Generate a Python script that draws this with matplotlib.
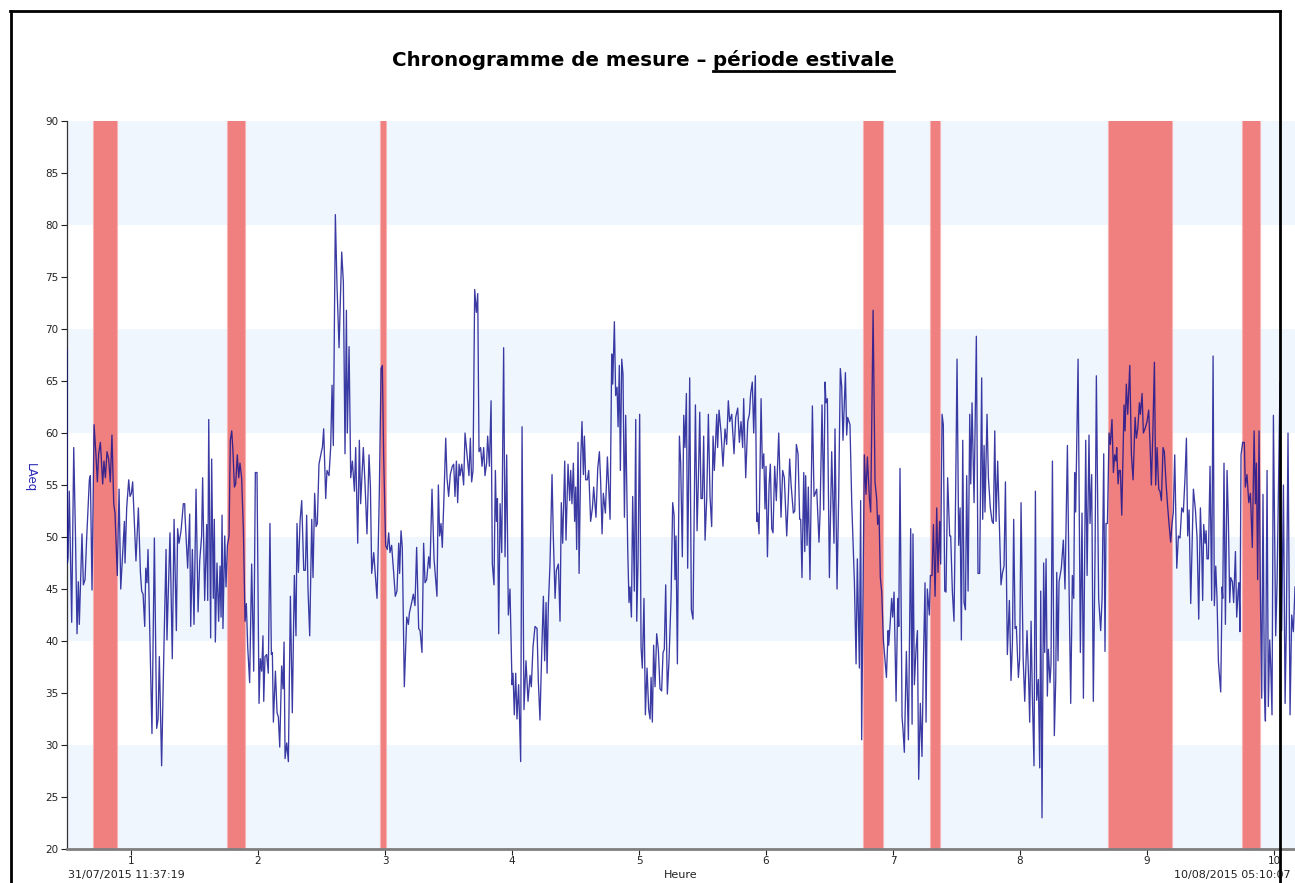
import matplotlib
matplotlib.use("Agg")
import matplotlib.pyplot as plt
from matplotlib.lines import Line2D

# ---------------- data ----------------
title_main = "Chronogramme de mesure \u2013 "
title_under = "p\u00e9riode estivale"
y_label = "LAeq"
x_label = "Heure"
start_label = "31/07/2015 11:37:19"
end_label = "10/08/2015 05:10:07"

x_ticks = [1, 2, 3, 4, 5, 6, 7, 8, 9, 10]
y_ticks = [20, 25, 30, 35, 40, 45, 50, 55, 60, 65, 70, 75, 80, 85, 90]
band_ranges = [(20, 30), (40, 50), (60, 70), (80, 90)]
red_periods = [(0.701, 0.890), (1.756, 1.898), (2.961, 3.008), (6.764, 6.921),
               (7.291, 7.370), (8.693, 9.197), (9.748, 9.890)]

time = [
 0.496,0.499,0.504,0.514,0.533,0.549,0.562,0.575,0.585,0.593,0.614,0.625,0.638,0.651,0.672,0.680,0.693,0.709,0.724,0.735,
 0.745,0.759,0.766,0.777,0.787,0.798,0.811,0.824,0.837,0.850,0.864,0.874,0.892,0.906,0.919,0.932,0.948,0.953,0.966,0.982,
 0.992,1.003,1.013,1.024,1.039,1.058,1.074,1.084,1.095,1.108,1.116,1.126,1.134,1.150,1.165,1.184,1.202,1.213,1.223,1.241,
 1.260,1.276,1.283,1.307,1.325,1.339,1.357,1.367,1.378,1.394,1.412,1.423,
 1.425,1.446,1.462,1.470,1.483,1.496,1.512,1.528,1.541,1.556,1.564,1.580,1.596,1.604,1.612,1.627,1.635,1.648,1.656,1.664,
 1.677,1.690,1.701,1.709,1.717,1.724,1.738,1.748,1.759,1.772,1.782,1.793,1.803,1.814,1.824,1.837,1.848,1.858,1.871,1.885,
 1.898,1.908,1.919,1.934,1.950,1.966,1.979,1.992,2.008,2.018,2.029,2.039,2.045,2.055,2.068,2.081,2.094,2.105,2.113,2.121,
 2.137,2.150,2.160,2.171,2.186,2.197,2.205,2.213,2.226,2.239,2.255,2.270,2.286,2.299,2.307,2.318,2.331,2.344,2.360,2.373,
 2.383,2.394,2.407,
 2.423,2.433,2.446,2.457,2.467,2.480,2.499,2.507,2.517,2.533,2.543,2.559,2.572,2.583,2.593,2.609,2.622,2.638,2.659,2.672,
 2.685,2.696,2.703,2.717,2.730,2.743,2.759,2.769,2.785,2.798,2.808,2.829,2.843,2.858,2.874,2.885,2.895,2.911,2.924,2.937,
 2.945,2.955,2.969,2.979,2.989,3.005,3.018,3.029,3.039,3.052,3.068,3.081,3.094,3.108,3.115,3.126,3.136,3.152,3.171,3.184,
 3.192,3.210,3.223,3.236,3.249,3.265,3.276,3.291,3.304,3.315,3.328,3.344,3.354,3.370,3.386,
 3.409,3.420,3.430,3.441,3.451,3.465,3.478,3.488,3.501,3.514,3.530,3.541,3.551,3.562,3.572,3.583,3.591,3.604,3.619,3.630,
 3.646,3.661,3.672,3.682,3.693,3.706,3.719,3.730,3.740,3.753,3.764,3.777,3.787,3.800,3.808,3.822,3.835,3.845,3.858,3.869,
 3.877,3.885,3.895,3.906,3.919,3.934,3.945,3.958,3.971,3.984,4.000,4.008,4.018,4.029,4.039,4.052,4.068,4.079,4.094,4.110,
 4.126,4.142,4.152,4.165,4.181,4.197,4.207,4.220,4.234,4.247,4.257,4.268,4.276,4.286,4.299,4.315,4.325,4.339,4.349,4.365,
 4.378,4.388,4.399,4.415,4.425,4.441,4.454,4.462,4.472,4.483,4.493,4.501,4.509,4.520,4.528,4.541,4.551,4.562,4.570,4.580,
 4.593,4.604,4.619,4.633,4.643,4.661,4.675,4.688,4.698,4.709,4.719,4.735,4.751,4.758,4.772,4.785,4.793,4.806,4.816,4.827,
 4.835,4.845,4.853,4.864,4.874,4.885,4.895,4.911,4.921,4.929,4.940,4.950,4.963,4.974,4.982,4.992,5.005,5.016,5.026,5.039,
 5.050,5.063,5.076,5.087,5.095,5.105,5.115,5.126,5.139,5.152,5.165,5.178,5.189,5.199,5.210,5.223,5.236,5.252,5.265,5.276,
 5.283,5.291,5.302,5.318,5.328,5.341,5.352,
 5.362,5.373,5.383,5.399,5.412,5.425,5.444,5.457,5.467,5.478,5.488,5.499,5.509,5.520,5.533,5.546,5.559,5.572,5.583,5.593,
 5.612,5.619,5.630,5.646,5.661,5.677,5.690,5.703,5.714,5.730,5.748,5.761,5.777,5.790,5.803,5.816,5.824,5.840,5.856,5.869,
 5.879,5.892,5.903,5.916,5.927,5.934,5.945,5.961,5.971,5.982,5.992,6.000,6.011,6.024,6.034,6.045,6.055,6.068,6.081,6.100,
 6.118,6.131,6.144,6.163,6.176,6.186,6.197,6.215,6.226,6.239,6.252,6.265,6.273,6.283,6.297,6.305,6.312,6.323,6.333,
 6.346,6.365,6.378,6.388,6.399,6.417,6.425,6.441,6.454,6.465,6.472,6.483,6.499,6.517,6.535,6.543,6.559,6.572,6.585,6.596,
 6.606,6.625,6.635,6.643,6.661,6.675,6.696,6.709,6.719,6.735,6.745,6.753,6.774,6.787,6.798,6.814,6.824,6.843,6.858,6.871,
 6.879,6.890,6.900,6.911,6.924,6.948,6.961,6.966,6.976,6.989,6.997,7.008,7.024,7.037,7.045,7.055,7.071,7.079,7.089,7.105,
 7.121,7.139,7.150,7.157,7.168,7.181,7.192,7.202,7.215,7.228,7.239,7.252,7.260,7.270,7.286,7.294,7.307,7.318,
 7.331,7.344,7.354,7.367,7.375,7.386,7.396,7.407,7.417,7.430,7.446,7.454,7.467,7.480,7.493,7.504,7.517,7.528,7.538,7.549,
 7.559,7.570,7.580,7.591,7.604,7.612,7.622,7.638,7.656,7.669,7.682,7.698,7.706,7.717,7.724,7.740,7.751,7.766,7.780,7.790,
 7.801,7.811,7.824,7.837,7.850,7.861,7.874,7.885,7.900,7.916,7.929,7.940,7.950,7.961,7.971,7.987,7.997,8.008,8.024,8.037,
 8.055,8.068,8.076,8.087,8.097,8.110,8.121,8.131,8.144,8.155,8.163,8.173,8.186,8.194,8.205,8.215,8.223,8.236,8.244,8.255,
 8.270,8.281,8.289,8.299,8.307,
 8.325,8.341,8.354,8.373,8.386,8.399,8.412,8.423,8.430,8.438,8.457,8.475,8.488,8.499,8.517,8.528,8.543,8.551,8.564,8.577,
 8.591,8.601,8.619,8.635,8.646,8.659,8.669,8.677,8.688,8.701,8.711,8.724,8.735,8.745,8.756,8.761,8.772,8.780,8.790,8.801,
 8.819,8.827,8.837,8.848,8.864,8.877,8.890,8.906,8.916,8.927,8.940,8.948,8.961,8.971,8.984,9.000,9.013,9.024,9.034,9.045,
 9.058,9.068,9.079,9.092,9.102,9.113,9.126,9.136,9.150,9.163,9.173,9.186,9.197,9.207,9.218,9.234,9.247,
 9.260,9.273,9.286,9.299,9.310,9.320,9.331,9.344,9.365,9.381,9.394,9.407,9.420,9.430,9.438,9.446,9.457,9.465,9.472,9.483,
 9.496,9.509,9.520,9.530,9.541,9.551,9.562,9.580,9.591,9.596,9.606,9.617,9.630,9.640,9.651,9.659,9.672,9.682,9.696,9.706,
 9.717,9.724,9.732,9.740,9.753,9.766,9.774,9.787,9.801,9.814,9.829,9.843,9.853,9.861,9.871,9.882,9.892,9.903,9.913,9.924,
 9.932,9.945,9.955,9.966,9.974,9.984,9.995,10.013,10.024,10.047,10.060,10.074,10.087,10.097,10.110,10.126,10.139,10.152,10.165,
]

laeq = [
 68.0,47.5,48.0,54.4,41.8,58.6,50.6,40.7,45.7,41.6,50.3,45.4,45.9,49.9,55.5,55.9,44.9,60.8,57.9,55.3,
 58.0,59.1,57.5,55.1,57.3,55.7,58.2,57.5,55.3,59.8,53.2,52.3,46.3,54.6,45.0,47.9,51.5,47.5,52.8,55.5,
 53.9,54.2,55.3,52.1,47.7,52.8,46.6,44.8,44.5,41.4,47.0,45.6,48.8,39.8,31.1,49.9,31.6,32.5,38.5,28.0,
 39.8,48.8,40.1,50.4,38.3,51.7,41.0,50.8,49.4,50.6,53.2,53.2,
 52.1,47.0,52.2,41.4,48.8,41.6,54.6,42.8,47.7,50.1,55.7,43.9,51.2,43.9,61.3,40.3,57.5,44.1,51.7,39.9,
 47.5,41.9,47.2,42.3,52.1,41.2,50.1,45.2,49.2,50.1,59.3,60.2,58.2,54.8,55.1,57.9,55.7,57.1,55.7,50.6,
 41.9,43.6,39.4,36.0,47.4,37.1,56.2,56.2,34.0,38.3,37.1,40.5,34.2,38.5,38.7,36.9,51.3,38.7,38.9,32.2,
 37.1,33.1,32.7,29.8,37.6,35.4,39.9,28.7,30.2,28.4,44.3,33.1,46.3,40.5,51.3,46.6,51.5,53.5,46.8,46.8,
 52.1,44.8,40.5,
 51.7,46.1,54.2,51.0,51.3,57.0,58.2,58.6,60.4,53.7,56.4,55.9,58.6,64.6,58.8,81.0,74.1,68.2,77.4,74.5,
 58.0,71.8,60.0,68.3,55.7,57.3,54.4,58.6,49.4,59.3,53.2,58.6,55.0,50.3,57.9,54.8,46.5,48.5,46.3,44.1,
 48.1,54.2,66.2,66.5,57.9,49.2,48.8,50.4,48.5,49.2,46.6,44.3,44.8,49.4,46.5,50.6,49.0,35.6,42.3,41.6,
 42.7,43.7,44.5,43.4,49.0,41.2,41.0,38.9,49.4,45.6,45.9,48.1,47.0,54.6,47.9,
 44.3,55.0,50.1,51.3,49.0,54.2,59.5,55.7,53.9,56.0,56.8,57.0,53.9,57.3,53.3,57.0,55.9,57.0,55.0,60.0,
 57.9,55.9,59.5,55.3,56.4,73.8,71.6,73.4,58.2,58.6,56.8,58.6,55.9,57.1,59.7,56.8,63.1,47.4,45.4,56.4,
 51.5,53.7,40.7,53.2,48.5,68.2,48.1,57.9,42.5,45.0,35.8,36.9,32.9,36.9,32.5,35.8,28.4,60.6,33.4,38.1,
 34.2,36.7,35.6,39.4,41.4,41.2,36.2,32.4,39.0,44.3,38.1,43.7,36.9,43.4,47.4,56.0,50.1,44.1,46.8,47.4,
 41.9,53.3,49.4,57.3,49.7,57.0,53.5,56.4,53.2,57.1,51.5,54.8,48.8,59.1,46.5,57.5,61.1,56.0,59.7,55.5,
 55.5,56.4,51.5,52.8,54.8,51.9,56.6,58.2,55.3,50.3,54.2,52.3,57.7,55.7,51.7,67.6,64.7,70.7,63.6,64.4,
 60.6,66.5,56.4,67.1,65.6,51.9,61.7,48.8,43.7,45.2,42.3,53.9,44.8,61.3,41.9,47.5,61.8,39.4,37.4,44.1,
 32.9,37.4,33.4,32.5,36.5,32.2,39.6,35.6,40.7,39.2,35.4,35.2,38.9,39.2,45.4,34.9,38.1,44.1,53.3,52.1,
 45.9,50.1,37.8,59.7,57.1,48.1,61.7,
 58.6,63.8,47.0,65.3,43.0,42.1,62.7,50.6,55.3,62.0,53.7,53.7,59.7,49.7,53.7,61.8,53.9,51.0,59.7,56.4,
 61.8,58.6,62.2,60.0,56.8,60.4,58.9,63.1,61.1,61.8,58.0,61.5,62.4,59.1,61.1,58.6,63.3,55.7,61.1,61.8,
 63.8,64.9,60.0,65.5,51.5,52.3,50.3,63.3,56.6,58.0,52.7,56.8,48.1,55.0,57.0,50.8,50.4,56.8,53.5,60.0,
 51.9,56.4,55.7,50.1,53.9,57.5,55.1,52.3,52.5,58.9,58.0,51.7,51.7,46.1,56.2,48.6,55.9,49.2,54.8,
 45.9,62.6,53.9,54.2,54.6,49.5,52.1,62.7,52.6,64.9,62.9,63.3,46.1,58.2,49.4,60.4,45.0,53.9,66.2,64.4,
 59.3,65.8,59.8,61.5,60.8,53.2,45.6,37.8,47.9,37.4,53.5,30.5,57.9,54.1,57.7,53.7,52.4,71.8,55.3,53.7,
 51.2,52.1,46.1,44.7,40.1,36.5,41.0,39.6,41.4,44.1,42.3,44.7,34.2,44.1,41.4,56.6,32.7,31.4,29.3,39.0,
 30.5,50.8,32.0,50.3,35.8,39.2,41.0,26.7,34.0,28.9,38.0,45.6,32.2,45.0,42.5,46.3,46.3,51.2,
 44.3,52.8,46.6,51.5,47.4,61.8,60.8,44.8,44.7,55.7,50.1,50.1,44.8,41.9,54.2,67.1,49.2,52.8,40.1,59.3,
 43.7,43.0,55.9,44.8,61.8,55.1,62.9,53.3,69.3,46.5,46.5,65.3,51.7,58.8,52.4,61.8,55.7,52.8,51.5,51.3,
 60.2,51.5,57.3,51.2,45.4,46.5,47.2,55.3,38.7,43.9,36.2,39.8,51.7,41.2,41.4,36.5,38.3,53.3,38.5,34.2,
 41.0,36.2,32.2,41.9,34.7,28.0,54.4,34.3,36.3,27.8,44.8,23.0,47.5,38.9,47.9,34.7,39.2,36.0,37.8,57.3,
 30.9,36.2,46.6,38.1,45.7,
 47.0,49.7,45.0,58.8,45.2,34.0,46.3,44.1,56.2,52.4,67.1,38.9,52.3,34.5,59.3,46.3,59.8,51.3,56.0,34.2,
 48.8,65.5,44.1,41.0,44.1,58.0,39.0,51.3,51.3,60.0,58.9,61.3,56.2,57.9,57.3,58.6,55.1,56.4,56.4,52.1,
 62.7,60.2,64.7,61.8,66.5,57.9,55.5,61.5,59.5,60.4,62.9,61.8,63.8,60.0,60.4,61.1,62.2,58.8,55.0,59.7,
 66.8,55.0,58.6,54.6,54.4,53.5,58.6,58.2,55.1,52.8,51.3,49.5,51.3,52.4,57.9,47.0,50.1,
 49.9,52.8,52.4,55.7,59.5,50.1,52.6,43.6,54.6,52.6,49.9,42.1,52.8,49.0,43.9,51.2,49.4,50.6,47.9,47.9,
 56.8,43.9,67.4,43.4,47.2,44.1,38.0,35.1,45.2,44.1,57.1,41.6,56.4,51.9,43.7,46.1,45.7,43.7,48.6,42.3,
 44.8,45.6,40.9,57.9,59.1,59.1,54.8,56.0,53.3,54.2,49.0,60.2,53.2,57.1,45.9,60.2,45.2,34.5,54.1,35.4,
 32.3,56.4,33.7,40.1,37.6,32.9,61.7,40.5,45.7,64.9,41.0,55.0,34.0,41.6,60.0,32.9,42.5,40.9,45.2,
]

# ---------------- figure ----------------
W, H = 1295, 883
fig = plt.figure(figsize=(W / 100, H / 100), dpi=100)
fig.patch.set_facecolor("white")

ax = fig.add_axes([67 / W, 1 - 849 / H, (1295 - 67) / W, (849 - 121) / H])
ax.set_facecolor("white")

for lo, hi in band_ranges:
    ax.axhspan(lo, hi, color="#f0f6fe", lw=0, zorder=0)
for a, b in red_periods:
    ax.axvspan(a, b, color="#f07f7f", lw=0, zorder=1)
    ax.axvline(a, color="#f6b4b4", lw=0.8, zorder=1)
    ax.axvline(b, color="#f6b4b4", lw=0.8, zorder=1)

ax.plot(time, laeq, color="#10108f", lw=0.95, alpha=0.82, zorder=3)

ax.set_xlim(0.496, 10.165)
ax.set_ylim(20, 90)
ax.set_xticks(x_ticks)
ax.set_xticklabels([str(v) for v in x_ticks])
ax.set_yticks(y_ticks)
ax.set_yticklabels([str(v) for v in y_ticks])

for s in ["top", "right"]:
    ax.spines[s].set_visible(False)
ax.spines["left"].set_color("#333333")
ax.spines["left"].set_linewidth(0.9)
ax.spines["bottom"].set_color("#7f7f7f")
ax.spines["bottom"].set_linewidth(2)
ax.tick_params(axis="y", direction="out", length=4, width=0.8, colors="#222222",
               labelsize=7.5, pad=2)
ax.tick_params(axis="x", direction="out", length=4, width=0.8, colors="#222222",
               labelsize=7.5, pad=1)

# y label
fig.text(30 / W, 1 - 478 / H, y_label, rotation=270, color="#2a2ab8",
         fontsize=8.5, ha="center", va="center")
# bottom texts
fig.text(681 / W, 1 - 875 / H, x_label, color="#222222", fontsize=8,
         ha="center", va="center")
fig.text(68 / W, 1 - 875 / H, start_label, color="#222222", fontsize=8,
         ha="left", va="center")
fig.text(1291 / W, 1 - 875 / H, end_label, color="#222222", fontsize=8,
         ha="right", va="center")

# title with underlined part
renderer = fig.canvas.get_renderer()
ty = 1 - 60 / H
t1 = fig.text(0, ty, title_main, fontsize=14.3, fontweight="bold",
              ha="left", va="center", color="black")
t2 = fig.text(0, ty, title_under, fontsize=14.3, fontweight="bold",
              ha="left", va="center", color="black")
w1 = t1.get_window_extent(renderer).width
w2 = t2.get_window_extent(renderer).width
cx = 643
x_start = cx - (w1 + w2) / 2
t1.set_x(x_start / W)
t2.set_x((x_start + w1) / W)
ext2 = t2.get_window_extent(renderer)
uy = (ext2.y0 - 1) / H
fig.add_artist(Line2D([(x_start + w1) / W, (x_start + w1 + w2) / W], [uy, uy],
                      color="black", lw=2, transform=fig.transFigure))

# outer frame (top, left, right)
frame_kw = dict(color="black", lw=2, transform=fig.transFigure, zorder=10)
fig.add_artist(Line2D([10 / W, 1280 / W], [1 - 11 / H, 1 - 11 / H], **frame_kw))
fig.add_artist(Line2D([11 / W, 11 / W], [0, 1 - 11 / H], **frame_kw))
fig.add_artist(Line2D([1280 / W, 1280 / W], [0, 1 - 11 / H], **frame_kw))

fig.savefig("out.png", dpi=100)
